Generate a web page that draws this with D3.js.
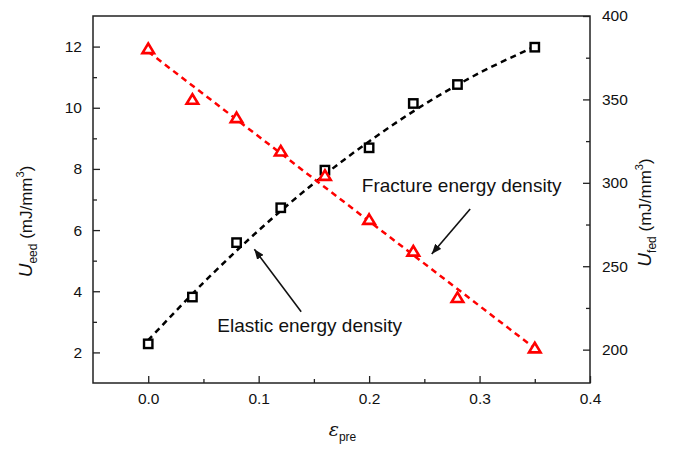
<!DOCTYPE html>
<html><head><meta charset="utf-8">
<script src="https://cdn.jsdelivr.net/npm/d3@7"></script>
<style>
body{margin:0;background:#fff;}
text{font-family:"Liberation Sans", Arial, sans-serif;fill:#111;}
</style></head><body>
<svg id="chart" width="674" height="450"></svg>
<script>
// Pre-strain levels and measured energy densities
const strain = [0, 0.04, 0.08, 0.12, 0.16, 0.2, 0.24, 0.28, 0.35];
const elastic = [2.28, 3.81, 5.59, 6.73, 7.96, 8.69, 10.14, 10.76, 11.98];
const fracture = [380.4, 350.0, 339.0, 319.0, 304.4, 278.0, 259.0, 231.2, 201.0];
// Fitted trend curves
const elasticFitX = [0, 0.05, 0.1, 0.15, 0.2, 0.25, 0.3, 0.35];
const elasticFitY = [2.40, 4.28, 5.99, 7.53, 8.90, 10.11, 11.14, 12.00];
const fractureFitX = [0, 0.35];
const fractureFitY = [378.6, 200.8];
// Ticks
const xTicks = [0, 0.1, 0.2, 0.3, 0.4];
const xMinor = [0.05, 0.15, 0.25, 0.35];
const leftTicks = [2, 4, 6, 8, 10, 12];
const leftMinor = [3, 5, 7, 9, 11];
const rightTicks = [200, 250, 300, 350, 400];
const rightMinor = [225, 275, 325, 375];

const W = 674, H = 450;
const margin = {left: 93, top: 16, right: 84, bottom: 67};
const svg = d3.select("#chart");

const x = d3.scaleLinear([-0.05, 0.4], [margin.left, W - margin.right]);
const yL = d3.scaleLinear([1, 13], [H - margin.bottom, margin.top]);
const yR = d3.scaleLinear([180, 400], [H - margin.bottom, margin.top]);

const fmt1 = d3.format(".1f");

// Axes with inward ticks
function addAxis(axis, transform) {
  const g = svg.append("g").attr("transform", transform).call(axis);
  g.select(".domain").remove();
  g.selectAll("line").attr("stroke", "#222").attr("stroke-width", 1.3);
  g.selectAll("text").attr("font-size", 15.5).attr("fill", "#111")
    .style("font-family", '"Liberation Sans", Arial, sans-serif');
  return g;
}
const bottomY = H - margin.bottom, rightX = W - margin.right;
addAxis(d3.axisBottom(x).tickValues(xTicks).tickFormat(fmt1).tickSize(-7).tickPadding(10), `translate(0,${bottomY})`);
addAxis(d3.axisBottom(x).tickValues(xMinor).tickFormat("").tickSize(-4), `translate(0,${bottomY})`);
addAxis(d3.axisLeft(yL).tickValues(leftTicks).tickFormat(d3.format("d")).tickSize(-7).tickPadding(11), `translate(${margin.left},0)`);
addAxis(d3.axisLeft(yL).tickValues(leftMinor).tickFormat("").tickSize(-4), `translate(${margin.left},0)`);
addAxis(d3.axisRight(yR).tickValues(rightTicks).tickFormat(d3.format("d")).tickSize(-7).tickPadding(12), `translate(${rightX},0)`);
addAxis(d3.axisRight(yR).tickValues(rightMinor).tickFormat("").tickSize(-4), `translate(${rightX},0)`);

// Frame
svg.append("rect")
  .attr("x", margin.left).attr("y", margin.top)
  .attr("width", rightX - margin.left).attr("height", bottomY - margin.top)
  .attr("fill", "none").attr("stroke", "#222").attr("stroke-width", 1.5);

// Fit lines
const elasticLine = d3.line().x((d, i) => x(elasticFitX[i])).y(d => yL(d)).curve(d3.curveCatmullRom);
svg.append("path").datum(elasticFitY).attr("d", elasticLine)
  .attr("fill", "none").attr("stroke", "#000").attr("stroke-width", 2.5).attr("stroke-dasharray", "6,4.5");
const fractureLine = d3.line().x((d, i) => x(fractureFitX[i])).y(d => yR(d));
svg.append("path").datum(fractureFitY).attr("d", fractureLine)
  .attr("fill", "none").attr("stroke", "#ff0000").attr("stroke-width", 2.5).attr("stroke-dasharray", "6,4.5");

// Elastic energy density markers (open squares)
svg.append("g").selectAll("rect").data(elastic).join("rect")
  .attr("x", (d, i) => x(strain[i]) - 4.2).attr("y", d => yL(d) - 4.2)
  .attr("width", 8.4).attr("height", 8.4)
  .attr("fill", "#fff").attr("stroke", "#000").attr("stroke-width", 2.4);

// Fracture energy density markers (open triangles)
svg.append("g").selectAll("path").data(fracture).join("path")
  .attr("transform", (d, i) => `translate(${x(strain[i])},${yR(d)})`)
  .attr("d", "M0,-5.2L5.8,4.4L-5.8,4.4Z")
  .attr("fill", "#fff").attr("stroke", "#ff0000").attr("stroke-width", 2.6);

// Annotations (placed in data units: strain, left axis)
const defs = svg.append("defs");
defs.append("marker").attr("id", "arrow").attr("viewBox", "0 0 10 8")
  .attr("refX", 10).attr("refY", 4).attr("markerWidth", 10).attr("markerHeight", 8)
  .attr("markerUnits", "userSpaceOnUse").attr("orient", "auto")
  .append("path").attr("d", "M0,0L10,4L0,8Z").attr("fill", "#111");

const notes = [
  {text: "Fracture energy density", tx: 0.1934, ty: 7.23, from: [0.2915, 6.69], to: [0.2567, 5.22]},
  {text: "Elastic energy density", tx: 0.0625, ty: 2.68, from: [0.1385, 3.33], to: [0.0961, 5.37]}
];
notes.forEach(n => {
  svg.append("text").attr("x", x(n.tx)).attr("y", yL(n.ty)).attr("font-size", 19).text(n.text);
  svg.append("line")
    .attr("x1", x(n.from[0])).attr("y1", yL(n.from[1]))
    .attr("x2", x(n.to[0])).attr("y2", yL(n.to[1]))
    .attr("stroke", "#111").attr("stroke-width", 1.6).attr("marker-end", "url(#arrow)");
});

// Axis titles
function unitTitle(g, sub) {
  const t = g.append("text").attr("text-anchor", "middle").attr("font-size", 17);
  t.append("tspan").attr("font-style", "italic").attr("font-size", 19).text("U");
  t.append("tspan").attr("font-size", 12).attr("dy", 5).text(sub);
  t.append("tspan").attr("dy", -5).text("\u00a0(mJ/mm");
  t.append("tspan").attr("font-size", 11).attr("dy", -8).text("3");
  t.append("tspan").attr("dy", 8).text(")");
  return t;
}
unitTitle(svg.append("g").attr("transform", `translate(32,${(margin.top + bottomY) / 2 + 22}) rotate(-90)`), "eed");
unitTitle(svg.append("g").attr("transform", `translate(651,${(margin.top + bottomY) / 2 + 13}) rotate(-90)`), "fed");

const xt = svg.append("text").attr("x", (margin.left + rightX) / 2 + 1).attr("y", 436)
  .attr("text-anchor", "middle").attr("font-size", 19);
xt.append("tspan").attr("font-style", "italic").style("font-family", '"DejaVu Serif", serif').text("\u03b5");
xt.append("tspan").attr("font-size", 12).attr("dy", 5).text("pre");
</script>
</body></html>
